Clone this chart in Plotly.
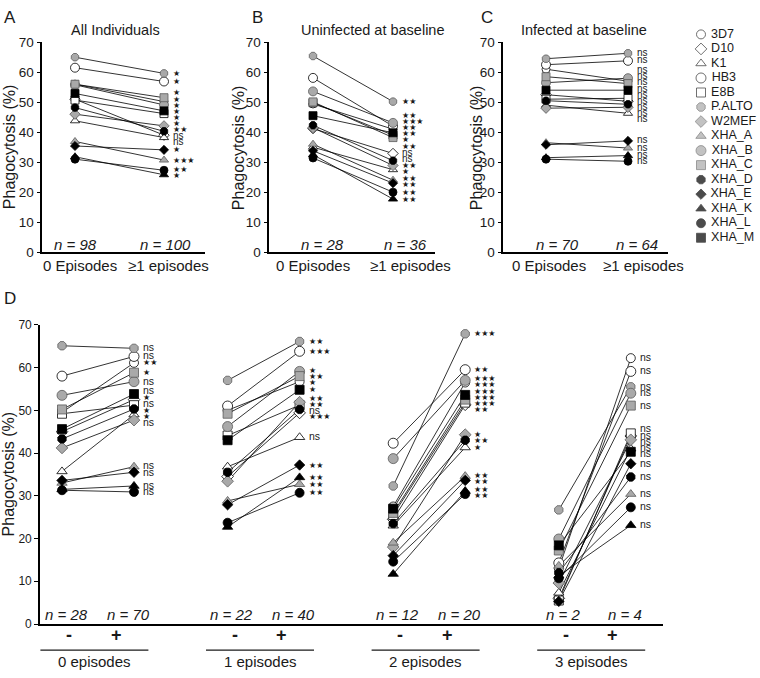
import plotly.graph_objects as go

# ---------------- data ----------------
strains = ["3D7", "D10", "K1", "HB3", "E8B", "P.ALTO", "W2MEF", "XHA_A",
           "XHA_B", "XHA_C", "XHA_D", "XHA_E", "XHA_K", "XHA_L", "XHA_M"]

# Panel A: All individuals (0 episodes vs >=1 episodes)
A_base = [56.0, 51.0, 43.8, 61.5, 50.7, 65.0, 46.0, 36.9, 55.8, 56.0, 48.2, 35.4, 31.8, 31.0, 52.9]
A_post = [50.2, 39.0, 38.2, 56.9, 46.2, 59.6, 42.1, 30.7, 49.1, 51.5, 40.3, 34.1, 25.8, 27.3, 47.1]
A_sig = ["*", "ns", "ns", "*", "*", "*", "*", "***", "*", "*", "**", "*", "*", "**", "*"]
A_n = [98, 100]

# Panel B: Uninfected at baseline
B_base = [49.4, 41.2, 35.0, 58.1, 49.8, 65.4, 41.5, 36.0, 53.6, 50.1, 42.3, 33.8, 32.5, 31.4, 45.5]
B_post = [41.0, 32.9, 27.5, 42.0, 39.0, 50.2, 28.9, 24.0, 43.1, 38.2, 30.5, 23.0, 17.7, 20.0, 39.8]
B_sig = ["**", "ns", "*", "***", "*", "**", "**", "**", "**", "**", "ns", "**", "**", "**", "**"]
B_n = [28, 36]

# Panel C: Infected at baseline
C_base = [61.0, 52.5, 49.0, 62.5, 51.0, 64.5, 48.0, 36.5, 56.5, 58.5, 50.5, 35.8, 31.5, 31.0, 54.0]
C_post = [57.0, 50.3, 46.3, 63.8, 51.3, 66.3, 48.3, 34.7, 58.0, 56.2, 49.3, 37.1, 32.2, 30.3, 54.0]
C_sig = ["ns"] * 15
C_n = [70, 64]

panel_titles = ["All Individuals", "Uninfected at baseline", "Infected at baseline"]
episode_cats = ["0 Episodes", "\u22651 episodes"]

# Panel D: by number of episodes, without (-) / with (+) infection
D_groups = ["0 episodes", "1 episodes", "2 episodes", "3 episodes"]
D_status = ["-", "+"]
D_n_minus = [28, 22, 12, 2]
D_n_plus = [70, 40, 20, 4]

D0_minus = [49.5, 45.0, 35.7, 58.0, 49.2, 65.1, 41.2, 33.0, 53.5, 50.2, 43.3, 33.6, 31.5, 31.3, 45.6]
D0_plus = [61.1, 52.5, 49.0, 62.6, 51.2, 64.5, 47.7, 36.8, 56.7, 58.8, 50.3, 35.5, 32.3, 30.9, 53.8]
D0_sig = ["**", "*", "*", "ns", "ns", "ns", "ns", "ns", "ns", "*", "*", "ns", "ns", "ns", "ns"]

D1_minus = [50.0, 34.5, 36.8, 51.0, 44.1, 57.0, 33.4, 28.8, 46.2, 49.2, 35.5, 27.9, 22.7, 23.7, 43.0]
D1_plus = [56.7, 49.4, 43.7, 63.8, 51.2, 66.1, 51.9, 32.7, 59.1, 58.0, 50.2, 37.2, 34.3, 30.7, 54.8]
D1_sig = ["*", "***", "ns", "***", "**", "**", "**", "**", "*", "**", "ns", "**", "**", "**", "*"]

D2_minus = [27.5, 24.5, 23.0, 42.3, 25.5, 32.3, 18.0, 19.0, 38.7, 26.0, 23.5, 16.0, 11.7, 14.6, 27.0]
D2_plus = [56.5, 51.3, 41.3, 59.5, 51.8, 67.9, 44.3, 34.6, 57.0, 52.5, 43.0, 33.6, 31.1, 30.4, 53.6]
D2_sig = ["***", "**", "*", "**", "***", "***", "*", "**", "***", "***", "**", "**", "**", "**", "***"]

D3_minus = [13.0, 6.0, 7.3, 14.3, 5.5, 26.7, 9.6, 13.6, 19.9, 17.2, 12.0, 5.3, 11.3, 10.7, 18.4]
D3_plus = [62.2, 44.0, 41.0, 59.1, 44.6, 55.5, 43.1, 30.4, 54.0, 51.1, 34.4, 37.5, 23.1, 27.3, 40.3]
D3_sig = ["ns"] * 15

y_ticks = [0, 10, 20, 30, 40, 50, 60, 70]

# ---------------- styles ----------------
FONT = "Liberation Sans, Arial, Helvetica, sans-serif"
W, H = 760, 678
GREY = "#a9a9a9"
INK = "#1a1a1a"
SYMBOLS = ["circle", "diamond", "triangle-up", "circle", "square", "octagon", "diamond",
           "triangle-up", "circle", "square", "octagon", "diamond", "triangle-up", "circle", "square"]
FILLS = ["white"] * 5 + [GREY] * 5 + ["black"] * 5
EDGES = ["black"] * 5 + ["#5a5a5a"] * 5 + ["black"] * 5
SIZE_ADJ = [0, 0, 0, 1, 0, 0, 0, 0, 1, 0, 0, -1, 0, 0, 0]


def fx(p):
    return p / W


def fy(p):
    return 1 - p / H


fig = go.Figure()
annotations = []
shapes = []

# panel geometry (pixels)
top_panels = [
    dict(xa="x", ya="y", x0=42.3, x1=205, px0=75, unit=89, base=A_base, post=A_post, sig=A_sig,
         n=A_n, n_px=(75, 165), lab_px=(80, 168), title_px=115, ytitle_px=9, letter="A", letter_px=10),
    dict(xa="x2", ya="y2", x0=269.3, x1=435, px0=313, unit=80, base=B_base, post=B_post, sig=B_sig,
         n=B_n, n_px=(322, 405), lab_px=(313, 410), title_px=373, ytitle_px=238, letter="B", letter_px=257),
    dict(xa="x3", ya="y3", x0=503.3, x1=668, px0=546, unit=82, base=C_base, post=C_post, sig=C_sig,
         n=C_n, n_px=(557, 637), lab_px=(549, 643), title_px=584, ytitle_px=476, letter="C", letter_px=487),
]
TOP_Y0, TOP_Y1 = 250.7, 36.0
D_X0, D_X1, D_Y0, D_Y1 = 40.0, 663.0, 631.0, 325.0
D_UNIT = 72.0
D_STEP = 2.3
D_PX0 = 62.0


def spread(vals, gap):
    order = sorted(range(len(vals)), key=lambda i: -vals[i])
    groups = [dict(m=[i]) for i in order]

    def top(g):
        c = sum(vals[i] for i in g["m"]) / len(g["m"])
        return c + (len(g["m"]) - 1) / 2 * gap

    changed = True
    while changed:
        changed = False
        for j in range(len(groups) - 1):
            g1, g2 = groups[j], groups[j + 1]
            bottom1 = top(g1) - (len(g1["m"]) - 1) * gap
            if bottom1 - top(g2) < gap - 1e-9:
                groups[j] = dict(m=g1["m"] + g2["m"])
                del groups[j + 1]
                changed = True
                break
    pos = [0] * len(vals)
    for g in groups:
        t = top(g)
        for k, i in enumerate(g["m"]):
            pos[i] = t - k * gap
    return pos


def sig_text(s):
    return s.replace("*", "\u2605")


def add_sig_labels(xa, ya, xpos, vals, sigs, gap, ns_size):
    pos = spread(vals, gap)
    for v, p, s in zip(vals, pos, sigs):
        is_star = "*" in s
        annotations.append(dict(
            x=xpos, y=p, xref=xa, yref=ya, text=sig_text(s), showarrow=False,
            xanchor="left", yanchor="middle", xshift=7, yshift=(0 if is_star else 1),
            font=dict(family=FONT if not is_star else "DejaVu Sans", size=(8 if is_star else ns_size),
                      color=INK)))


# ---------- top panels ----------
for k, P in enumerate(top_panels):
    # lines first
    for i in range(len(strains)):
        fig.add_trace(go.Scatter(x=[0, 1], y=[P["base"][i], P["post"][i]], mode="lines",
                                 line=dict(color="black", width=0.8), xaxis=P["xa"], yaxis=P["ya"],
                                 showlegend=False, hoverinfo="skip", cliponaxis=False))
    for i in range(len(strains)):
        fig.add_trace(go.Scatter(x=[0, 1], y=[P["base"][i], P["post"][i]], mode="markers",
                                 marker=dict(symbol=SYMBOLS[i], size=8 + SIZE_ADJ[i], color=FILLS[i],
                                             line=dict(color=EDGES[i], width=0.8)),
                                 xaxis=P["xa"], yaxis=P["ya"], showlegend=False,
                                 name=strains[i], cliponaxis=False))
    add_sig_labels(P["xa"], P["ya"], 1, P["post"], P["sig"], 6.3 / ((TOP_Y0 - TOP_Y1) / 70), 10)
    # n labels
    for j in range(2):
        annotations.append(dict(x=fx(P["n_px"][j]), y=fy(243), xref="paper", yref="paper",
                                text="<i>n = %d</i>" % P["n"][j], showarrow=False,
                                xanchor="center", yanchor="middle",
                                font=dict(family=FONT, size=15, color=INK)))
        annotations.append(dict(x=fx(P["lab_px"][j]), y=fy(264), xref="paper", yref="paper",
                                text=episode_cats[j], showarrow=False, xanchor="center", yanchor="middle",
                                font=dict(family=FONT, size=15, color=INK)))
    annotations.append(dict(x=fx(P["title_px"]), y=fy(24), xref="paper", yref="paper",
                            text=panel_titles[k], showarrow=False, xanchor="center", yanchor="middle",
                            font=dict(family=FONT, size=14.5, color=INK)))
    annotations.append(dict(x=fx(P["ytitle_px"]), y=fy((TOP_Y0 + TOP_Y1) / 2), xref="paper", yref="paper",
                            text="Phagocytosis (%)", textangle=-90, showarrow=False,
                            xanchor="center", yanchor="middle",
                            font=dict(family=FONT, size=16, color=INK)))
    annotations.append(dict(x=fx(P["letter_px"]), y=fy(11), xref="paper", yref="paper",
                            text=P["letter"], showarrow=False, xanchor="center", yanchor="middle",
                            font=dict(family=FONT, size=17, color=INK)))

# ---------- panel D ----------
D_minus = [D0_minus, D1_minus, D2_minus, D3_minus]
D_plus = [D0_plus, D1_plus, D2_plus, D3_plus]
D_sig = [D0_sig, D1_sig, D2_sig, D3_sig]


def gx(g, s):
    return g * D_STEP + s


for i in range(len(strains)):
    xs, ys = [], []
    for g in range(len(D_groups)):
        xs += [gx(g, 0), gx(g, 1), None]
        ys += [D_minus[g][i], D_plus[g][i], None]
    fig.add_trace(go.Scatter(x=xs, y=ys, mode="lines", line=dict(color="black", width=0.8),
                             xaxis="x4", yaxis="y4", showlegend=False, hoverinfo="skip",
                             cliponaxis=False, connectgaps=False))
for i in range(len(strains)):
    xs, ys = [], []
    for g in range(len(D_groups)):
        xs += [gx(g, 0), gx(g, 1)]
        ys += [D_minus[g][i], D_plus[g][i]]
    fig.add_trace(go.Scatter(x=xs, y=ys, mode="markers",
                             marker=dict(symbol=SYMBOLS[i], size=9 + SIZE_ADJ[i], color=FILLS[i],
                                         line=dict(color=EDGES[i], width=0.8)),
                             xaxis="x4", yaxis="y4", showlegend=False, name=strains[i],
                             cliponaxis=False))

d_ppu = (D_Y0 - D_Y1) / 70
for g in range(len(D_groups)):
    add_sig_labels("x4", "y4", gx(g, 1), D_plus[g], D_sig[g], 6.4 / d_ppu, 10.5)
    ns = [D_n_minus[g], D_n_plus[g]]
    for s in range(2):
        annotations.append(dict(x=gx(g, s) + (0.06 if s == 0 else -0.08), y=fy(621.5), xref="x4",
                                yref="paper", text="<i>n = %d</i>" % ns[s], showarrow=False,
                                xanchor="center", yanchor="middle",
                                font=dict(family=FONT, size=15, color=INK)))
        annotations.append(dict(x=gx(g, s) + (0.1 if s == 0 else -0.25), y=fy(642.5), xref="x4",
                                yref="paper", text="<b>%s</b>" % D_status[s], showarrow=False,
                                xanchor="center", yanchor="middle",
                                font=dict(family=FONT, size=18, color=INK)))
    c = gx(g, 0.5)
    annotations.append(dict(x=c - 0.05, y=fy(669), xref="x4", yref="paper", text=D_groups[g],
                            showarrow=False, xanchor="center", yanchor="middle",
                            font=dict(family=FONT, size=15, color=INK)))
    shapes.append(dict(type="line", xref="x4", yref="paper", x0=c - 0.8, x1=c + 0.7,
                       y0=fy(657.7), y1=fy(657.7), line=dict(color=INK, width=1.2)))

annotations.append(dict(x=fx(8), y=fy((D_Y0 + D_Y1) / 2), xref="paper", yref="paper",
                        text="Phagocytosis (%)", textangle=-90, showarrow=False,
                        xanchor="center", yanchor="middle", font=dict(family=FONT, size=16, color=INK)))
annotations.append(dict(x=fx(10), y=fy(298), xref="paper", yref="paper", text="D", showarrow=False,
                        xanchor="center", yanchor="middle", font=dict(family=FONT, size=17, color=INK)))

# ---------- legend (drawn as a key on its own axis) ----------
fig.add_trace(go.Scatter(x=[0] * len(strains), y=strains, mode="markers+text",
                         text=[" " + s for s in strains], textposition="middle right",
                         textfont=dict(family=FONT, size=12.5, color=INK),
                         marker=dict(symbol=SYMBOLS, size=[9 + a for a in SIZE_ADJ], color=FILLS,
                                     line=dict(color=EDGES, width=0.8)),
                         xaxis="x5", yaxis="y5", showlegend=False, cliponaxis=False,
                         hoverinfo="skip"))

# ---------- layout ----------
def yax(dom, size, anchor):
    return dict(domain=dom, range=[0, 70], tickvals=y_ticks, showline=True, linecolor="black",
                linewidth=1.6, ticks="outside", ticklen=4, tickwidth=1, tickcolor="black",
                showgrid=False, zeroline=False, anchor=anchor,
                tickfont=dict(family=FONT, size=size, color=INK))


def xax(dom, rng, anchor):
    return dict(domain=dom, range=rng, showline=True, linecolor="black", linewidth=1.6,
                showgrid=False, zeroline=False, showticklabels=False, ticks="", anchor=anchor)


layout = dict(width=W, height=H, margin=dict(l=0, r=0, t=0, b=0),
              paper_bgcolor="white", plot_bgcolor="white", showlegend=False,
              annotations=annotations, shapes=shapes)
names = [("xaxis", "yaxis", "x", "y"), ("xaxis2", "yaxis2", "x2", "y2"), ("xaxis3", "yaxis3", "x3", "y3")]
for P, (xn, yn, xr, yr) in zip(top_panels, names):
    left = -(P["px0"] - P["x0"]) / P["unit"]
    right = (P["x1"] - P["px0"]) / P["unit"]
    layout[xn] = xax([fx(P["x0"]), fx(P["x1"])], [left, right], yr)
    layout[yn] = yax([fy(TOP_Y0), fy(TOP_Y1)], 13.5, xr)

layout["xaxis4"] = xax([fx(D_X0), fx(D_X1)],
                       [-(D_PX0 - D_X0) / D_UNIT, (D_X1 - D_PX0) / D_UNIT], "y4")
layout["yaxis4"] = yax([fy(D_Y0), fy(D_Y1)], 12, "x4")

layout["xaxis5"] = dict(domain=[fx(695), fx(760)], range=[-6, 59], visible=False, anchor="y5")
layout["yaxis5"] = dict(domain=[fy(243.4), fy(20.6)], type="category", categoryarray=strains,
                        range=[len(strains) - 0.5, -0.5], visible=False, anchor="x5")

fig.update_layout(**layout)
fig.write_html("out.html", config={"displayModeBar": False},
               post_script="document.body.style.margin='0';document.body.style.overflow='hidden';")
